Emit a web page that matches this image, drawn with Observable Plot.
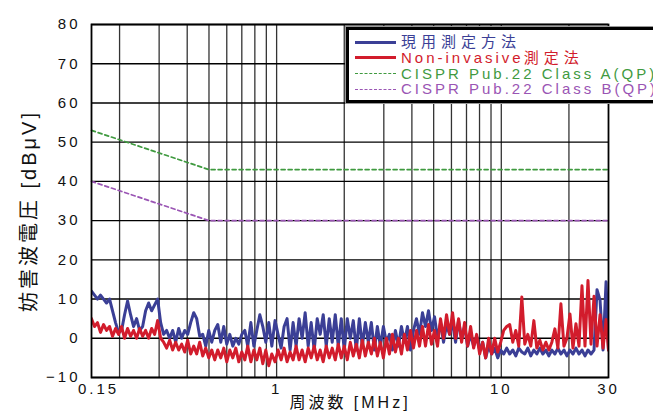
<!DOCTYPE html>
<html>
<head>
<meta charset="utf-8">
<script src="https://cdn.jsdelivr.net/npm/d3@7"></script>
<script src="https://cdn.jsdelivr.net/npm/@observablehq/plot@0.6"></script>
<style>
  html, body { margin: 0; padding: 0; background: #fff; }
  #wrap { position: relative; width: 653px; height: 416px; overflow: hidden; font-family: 'Liberation Sans', Arial, 'Noto Sans CJK JP', sans-serif; }
  #chart svg text { letter-spacing: 3px; }
  #chart svg text.ytitle { letter-spacing: 5px; }
  #legend { position: absolute; left: 346px; top: 27px; width: 340px; height: 70px; border: 3px solid #000; background: #fff; box-shadow: 0 0 0 1px #999; }
  .row { position: absolute; left: 0; height: 16px; width: 340px; }
  .sample { position: absolute; left: 6px; width: 41px; top: 8px; }
  .lab { position: absolute; left: 52px; top: 0; font-size: 15px; line-height: 16px; letter-spacing: 3px; white-space: nowrap; }
  .cjk { letter-spacing: 5px; }
</style>
</head>
<body>
<div id="wrap">
  <div id="chart"></div>
  <div id="legend"></div>
</div>
<script>
// Frequency samples (MHz)
const freq = [
  0.150,0.1547,0.1595,0.1645,0.1697,0.1750,0.1805,0.1861,0.1919,0.1979,
  0.2041,0.2105,0.2171,0.2239,0.2309,0.2381,0.2456,0.2533,0.2612,0.2694,
  0.2778,0.2865,0.2954,0.3047,0.3142,0.3240,0.3342,0.3446,0.3554,0.3665,
  0.3780,0.3898,0.4020,0.4146,0.4276,0.4409,0.4547,0.4690,0.4836,0.4988,
  0.5144,0.5305,0.5471,0.5642,0.5818,0.6000,0.6188,0.6382,0.6581,0.6787,
  0.700,0.722,0.744,0.768,0.792,0.816,0.842,0.868,0.895,0.923,
  0.952,0.984,1.015,1.047,1.080,1.113,1.148,1.184,1.221,1.259,
  1.299,1.340,1.382,1.425,1.470,1.516,1.563,1.612,1.663,1.715,
  1.768,1.824,1.881,1.940,2.000,2.063,2.128,2.194,2.263,2.334,
  2.407,2.482,2.560,2.640,2.723,2.808,2.896,2.987,3.080,3.177,
  3.276,3.379,3.485,3.594,3.706,3.822,3.942,4.065,4.193,4.324,
  4.459,4.599,4.743,4.891,5.044,5.202,5.365,5.533,5.706,5.885,
  6.069,6.259,6.455,6.657,6.866,7.081,7.302,7.531,7.767,8.010,
  8.261,8.520,8.786,9.061,9.345,9.638,9.940,10.25,10.57,10.90,
  11.25,11.60,11.96,12.34,12.72,13.12,13.53,13.96,14.39,14.84,
  15.31,15.79,16.28,16.79,17.32,17.86,18.42,19.00,19.59,20.21,
  20.84,21.49,22.17,22.86,23.58,24.31,25.08,25.86,26.67,27.51,
  28.37,29.26,30.00
];
// 現用測定方法 (dBμV)
const currentMethod = [
  12,11,10,11,10,9,10,7,4,1.5,
  2,6,9.5,6,3,5,2,3,7,9,
  7,8.5,10,4,1,2,0,2,-1,2.5,
  0,2,1,4,6.5,5,0.5,1,-2,2,
  -1,2,3.5,-1,3,-1.5,1,-2,0,-1.5,
  1,2,-2,4,-2,2,6,3,-1,4,
  -2,4.5,1,-2.5,3,5,-3,4,-2,5,
  0,6.5,-2,4,-3,5,1,6,-2,5,
  -1,6,-2,5,-3,5,0,4.5,-3,5,
  -2,4,-1,4,-3,3,-2,3,-1,1,
  -3,2,-2,3,-1,3,-3,2,5,1,
  6.5,3,7,2,5.5,0,4,-1,3.5,1,
  4,-1,4.5,0,3,-2,1,-2,0.5,-3,
  -1,-5,-2,-4,-2.5,-5,-3,-4,-2.5,-4,
  -3,-4.5,-2.5,-3.5,-4,-2.5,-4.5,-3,-4,-2.5,
  -4,-3,-4.5,-3,-4,-2.5,-4,-3,-4.5,-3,
  -4,-2.5,-4,-3,-4.5,-3,-4,-3,12.4,9.7,
  -3,14.4,-3
];
// Non-invasive測定法 (dBμV)
const nonInvasive = [
  5,3,4,1.5,3.5,2,3,0.5,2.5,1,
  3,0,2.5,0.5,2,0,2.5,0.5,2,0,
  2.5,1,4.5,0,-1,-2.5,-0.5,-3,-1,-3,
  -1.5,-3.5,-0.5,-4,-2,-4,-1,-4.5,-2.5,-5,
  -3,-5.5,-3,-5,-2.5,-6,-3,-5,-2.5,-6,
  -3.5,-5.5,-2,-6,-3,-5.5,-2.5,-6.5,-3,-7,
  -4,-6,-3,-5.5,-2.5,-6,-3.5,-5.5,-2,-5.5,
  -3,-6,-2.5,-5,-2,-5.5,-3,-6,-2,-5,
  -2.5,-5.5,-1.5,-5,-2,-5.5,-1,-4.5,-1.5,-5,
  -0.5,-4.5,-1,-4,0,-4.5,-1,-5,0,-4,
  1,-3.5,0,-4,1,-3,2,-2.5,2,-2,
  3,-2,3.5,-1.5,2,-2,5,0,6,1,
  6.5,0,5,-1,4,-2,3,-2.5,1,-4,
  -1,-5,0,-4,0,-3.5,-1,2,3,3.5,
  -1,2,-2,10.5,-1.5,1,-2,4.5,-2.5,-0.5,
  -3,-1,-3,-1,2.4,-2.5,8.8,-2,0,6.2,
  -2.5,3.7,-2,13.4,-2,14.7,-1.5,10.7,-2,6,
  -2.5,4.8,-3
];
// CISPR limits
const limitFreq = [0.15, 0.5, 30];
const classA = [53, 43, 43];
const classB = [40, 30, 30];

const seriesNames = ["現用測定方法", "Non-invasive測定法", "CISPR Pub.22 Class A(QP)", "CISPR Pub.22 Class B(QP)"];
const seriesColors = ["#3b3f96", "#d21c2c", "#3f9a3f", "#9a55b4"];

const yTicks = [-10, 0, 10, 20, 30, 40, 50, 60, 70, 80];
const xTicks = [0.15, 1, 10, 30];
const xTickLabels = ["0.15", "1", "10", "30"];
const xGrid = [0.2,0.3,0.4,0.5,0.6,0.7,0.8,0.9,1,2,3,4,5,6,7,8,9,10,20];
const xTitle = "周波数 [MHz]";
const yTitle = "妨害波電圧 [dBμV]";

const blueData = freq.map((f, i) => ({f, v: currentMethod[i]}));
const redData = freq.map((f, i) => ({f, v: nonInvasive[i]}));
const aData = limitFreq.map((f, i) => ({f, v: classA[i]}));
const bData = limitFreq.map((f, i) => ({f, v: classB[i]}));
const fmtX = (d) => xTickLabels[xTicks.indexOf(d)];

const chart = Plot.plot({
  width: 653,
  height: 416,
  marginLeft: 91,
  marginRight: 45,
  marginTop: 24,
  marginBottom: 39,
  style: {fontFamily: "'Liberation Sans', Arial, 'Noto Sans CJK JP', sans-serif", fontSize: "15px", color: "#111", background: "#fff"},
  x: {type: "log", domain: [0.15, 30]},
  y: {domain: [-10, 80]},
  marks: [
    Plot.ruleX(xGrid, {stroke: "#000", strokeWidth: 1.3, strokeOpacity: 0.8}),
    Plot.ruleY(yTicks, {stroke: "#000", strokeWidth: 1.4}),
    Plot.line(aData, {x: "f", y: "v", stroke: seriesColors[2], strokeWidth: 1.7, strokeDasharray: "4,3"}),
    Plot.line(bData, {x: "f", y: "v", stroke: seriesColors[3], strokeWidth: 1.7, strokeDasharray: "4,3"}),
    Plot.line(blueData, {x: "f", y: "v", stroke: seriesColors[0], strokeWidth: 3, clip: true}),
    Plot.line(redData, {x: "f", y: "v", stroke: seriesColors[1], strokeWidth: 3, clip: true}),
    Plot.frame({stroke: "#000", strokeWidth: 1.8}),
    Plot.axisY(yTicks, {tickSize: 0, tickPadding: 11, fontSize: 15, label: null}),
    Plot.axisX(xTicks.slice(0, 1), {tickSize: 0, tickPadding: 6, dx: 7, fontSize: 15, label: null, tickFormat: fmtX}),
    Plot.axisX(xTicks.slice(1), {tickSize: 0, tickPadding: 6, fontSize: 15, label: null, tickFormat: fmtX}),
    Plot.text([xTitle], {frameAnchor: "bottom", textAnchor: "middle", dy: 30, fontSize: 16}),
    Plot.text([yTitle], {frameAnchor: "left", textAnchor: "middle", dx: -62, dy: 10, rotate: -90, fontSize: 20, className: "ytitle"})
  ]
});
document.getElementById("chart").appendChild(chart);

// Legend
const legend = document.getElementById("legend");
const rowCenters = [12, 27.5, 43.5, 59];
seriesNames.forEach((name, i) => {
  const row = document.createElement("div");
  row.className = "row";
  row.style.top = (rowCenters[i] - 8) + "px";
  const s = document.createElement("div");
  s.className = "sample";
  s.style.borderTop = i < 2 ? `3px solid ${seriesColors[i]}` : `1.5px dashed ${seriesColors[i]}`;
  s.style.top = i < 2 ? "6.5px" : "7.5px";
  row.appendChild(s);
  const t = document.createElement("div");
  t.className = "lab";
  t.style.color = seriesColors[i];
  name.split(/([\u3000-\u9fff]+)/).forEach(part => {
    if (!part) return;
    const sp = document.createElement("span");
    if (/[\u3000-\u9fff]/.test(part)) sp.className = "cjk";
    sp.textContent = part;
    t.appendChild(sp);
  });
  row.appendChild(t);
  legend.appendChild(row);
});
</script>
</body>
</html>
